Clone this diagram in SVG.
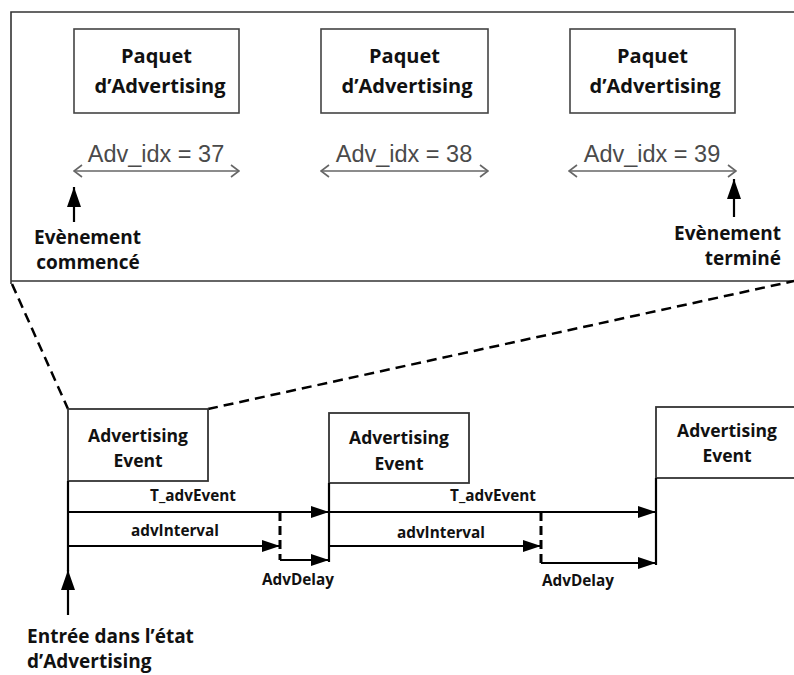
<svg xmlns="http://www.w3.org/2000/svg" width="794" height="675" viewBox="0 0 794 675">
<style>
.b{font-family:"Open Sans","Noto Sans","Liberation Sans",sans-serif;font-weight:bold;fill:#111}
.t20{font-size:20px}
.t17{font-size:17.5px}
.t15{font-size:15.3px}
.t19{font-size:19px}
.idx{font-family:"Liberation Sans",Arial,sans-serif;font-size:23.5px;fill:#4a4a4a}
.box{fill:#fff;stroke:#444;stroke-width:1.6}
.bbox{fill:#fff;stroke:#333;stroke-width:1.8}
.gray{stroke:#666;stroke-width:1.6;fill:none}
.arr{stroke:#000;stroke-width:2.2;fill:none}
.dash{stroke:#000;stroke-width:3;stroke-dasharray:9 5;fill:none}
.zoom{stroke:#000;stroke-width:2.5;stroke-dasharray:10 6;fill:none}
</style>
<defs>
<marker id="head" viewBox="0 0 18 12" refX="18" refY="6" markerWidth="18" markerHeight="12" markerUnits="userSpaceOnUse" orient="auto">
<path d="M0,0 L18,6 L0,12 z" fill="#000"/>
</marker>
<marker id="uphead" viewBox="0 0 20 14" refX="20" refY="7" markerWidth="20" markerHeight="14" markerUnits="userSpaceOnUse" orient="auto">
<path d="M0,0 L20,7 L0,14 z" fill="#000"/>
</marker>
<marker id="chev" viewBox="0 0 10 14" refX="9" refY="7" markerWidth="10" markerHeight="14" markerUnits="userSpaceOnUse" orient="auto-start-reverse">
<path d="M1,1 L9,7 L1,13" fill="none" stroke="#666" stroke-width="1.6"/>
</marker>
</defs>

<g id="frame">
<polyline points="794,12 11,12 11,284" fill="none" stroke="#333" stroke-width="1.6"/>
<line x1="11" y1="281" x2="794" y2="281" stroke="#333" stroke-width="1.6"/>
</g>

<g id="paquet1">
<rect class="box" x="74" y="29" width="165" height="84"/>
<text class="b t20" x="156.5" y="63" text-anchor="middle">Paquet</text>
<text class="b t20" x="160" y="93" text-anchor="middle">d’Advertising</text>
</g>
<g id="paquet2">
<rect class="box" x="321" y="29" width="167" height="84"/>
<text class="b t20" x="404.5" y="63" text-anchor="middle">Paquet</text>
<text class="b t20" x="407" y="93" text-anchor="middle">d’Advertising</text>
</g>
<g id="paquet3">
<rect class="box" x="570" y="29" width="165" height="84"/>
<text class="b t20" x="652.5" y="63" text-anchor="middle">Paquet</text>
<text class="b t20" x="655" y="93" text-anchor="middle">d’Advertising</text>
</g>

<g id="idx37">
<line class="gray" x1="74" y1="171" x2="239" y2="171" marker-start="url(#chev)" marker-end="url(#chev)"/>
<text class="idx" x="156" y="162" text-anchor="middle">Adv_idx = 37</text>
</g>
<g id="idx38">
<line class="gray" x1="321" y1="171" x2="488" y2="171" marker-start="url(#chev)" marker-end="url(#chev)"/>
<text class="idx" x="404" y="162" text-anchor="middle">Adv_idx = 38</text>
</g>
<g id="idx39">
<line class="gray" x1="569" y1="171" x2="736" y2="171" marker-start="url(#chev)" marker-end="url(#chev)"/>
<text class="idx" x="652" y="162" text-anchor="middle">Adv_idx = 39</text>
</g>

<g id="start">
<line class="arr" x1="74" y1="222" x2="74" y2="187" marker-end="url(#uphead)"/>
<text class="b t19" x="87.5" y="244" text-anchor="middle">Evènement</text>
<text class="b t19" x="88" y="269" text-anchor="middle">commencé</text>
</g>
<g id="end">
<line class="arr" x1="734" y1="217" x2="734" y2="179" marker-end="url(#uphead)"/>
<text class="b t19" x="781" y="240" text-anchor="end">Evènement</text>
<text class="b t19" x="781" y="265" text-anchor="end">terminé</text>
</g>

<g id="zoomlines">
<line class="zoom" x1="12" y1="284" x2="68" y2="409"/>
<line class="zoom" x1="208" y1="409" x2="794" y2="281"/>
</g>

<g id="event1">
<rect class="bbox" x="68" y="409" width="140" height="72"/>
<text class="b t17" x="138" y="442" text-anchor="middle">Advertising</text>
<text class="b t17" x="138" y="467" text-anchor="middle">Event</text>
</g>
<g id="event2">
<rect class="bbox" x="329" y="413" width="140" height="70"/>
<text class="b t17" x="399" y="444" text-anchor="middle">Advertising</text>
<text class="b t17" x="399" y="470" text-anchor="middle">Event</text>
</g>
<g id="event3">
<rect class="bbox" x="656" y="407" width="150" height="71"/>
<text class="b t17" x="727" y="437" text-anchor="middle">Advertising</text>
<text class="b t17" x="727" y="462" text-anchor="middle">Event</text>
</g>

<g id="connectors">
<line class="arr" x1="68" y1="481" x2="68" y2="571"/>
<line class="arr" x1="68" y1="615" x2="68" y2="570" marker-end="url(#uphead)"/>
<line class="arr" x1="329" y1="483" x2="329" y2="562"/>
<line class="arr" x1="656" y1="478" x2="656" y2="565"/>

<line class="arr" x1="68" y1="512" x2="329" y2="512" marker-end="url(#head)"/>
<line class="arr" x1="68" y1="546" x2="280" y2="546" marker-end="url(#head)"/>
<line class="dash" x1="280" y1="512" x2="280" y2="560"/>
<line class="arr" x1="280" y1="560" x2="329" y2="560" stroke-width="3" marker-end="url(#head)"/>

<line class="arr" x1="329" y1="512" x2="656" y2="512" marker-end="url(#head)"/>
<line class="arr" x1="329" y1="546" x2="541" y2="546" marker-end="url(#head)"/>
<line class="dash" x1="541" y1="512" x2="541" y2="563"/>
<line class="arr" x1="541" y1="563" x2="656" y2="563" stroke-width="3" marker-end="url(#head)"/>
</g>

<g id="labels">
<text class="b t15" x="193" y="501" text-anchor="middle">T_advEvent</text>
<text class="b t15" x="175" y="536" text-anchor="middle">advInterval</text>
<text class="b t15" x="298" y="585" text-anchor="middle">AdvDelay</text>
<text class="b t15" x="493" y="501" text-anchor="middle">T_advEvent</text>
<text class="b t15" x="441" y="538" text-anchor="middle">advInterval</text>
<text class="b t15" x="578" y="586" text-anchor="middle">AdvDelay</text>
</g>

<g id="entry">
<text class="b t19" x="27" y="643">Entrée dans l’état</text>
<text class="b t19" x="27" y="668">d’Advertising</text>
</g>
</svg>
